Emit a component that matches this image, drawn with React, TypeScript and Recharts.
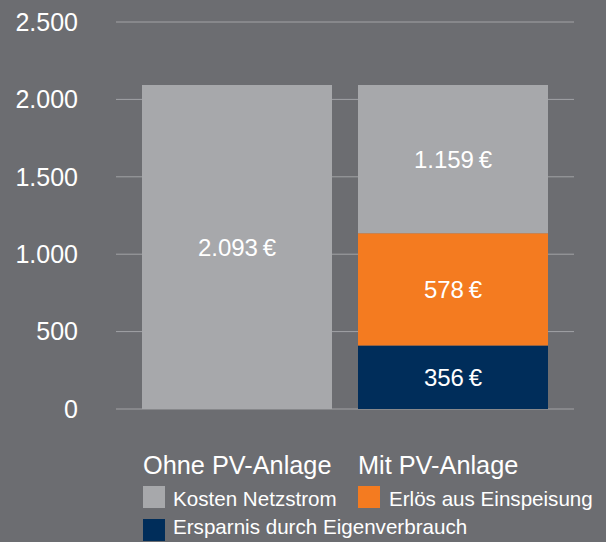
import { Bar, BarChart, CartesianGrid, LabelList, XAxis, YAxis } from "recharts";

const categories = ["Ohne PV-Anlage", "Mit PV-Anlage"];
// segment heights as drawn in the picture (the printed amounts are below)
const kostenNetzstrom = [2093, 958];
const erloesEinspeisung = [0, 724];
const ersparnisEigen = [0, 411];
// amounts printed inside the segments
const labelNetzstrom = [2093, 1159];
const labelEinspeisung = [0, 578];
const labelEigen = [0, 356];
const yTicks = [0, 500, 1000, 1500, 2000, 2500];

const data = categories.map((name, i) => ({
  name,
  netz: kostenNetzstrom[i],
  einspeisung: erloesEinspeisung[i],
  eigen: ersparnisEigen[i],
  netzLabel: labelNetzstrom[i],
  einspeisungLabel: labelEinspeisung[i],
  eigenLabel: labelEigen[i],
}));

const BG = "#6c6d71";
const GRAY = "#a7a8ab";
const ORANGE = "#f47b20";
const NAVY = "#002d5a";
const FONT = '"Liberation Sans", Arial, Helvetica, sans-serif';

const fmt = (v: number) => v.toLocaleString("de-DE");
const euro = (v: any) => (v ? `${fmt(Number(v))}\u2009€` : "");

const Swatch = ({ left, top, color }: { left: number; top: number; color: string }) => (
  <div style={{ position: "absolute", left, top, width: 22, height: 22, background: color }} />
);

const Txt = ({ left, top, size, children }: { left: number; top: number; size: number; children: string }) => (
  <div style={{ position: "absolute", left, top, fontSize: size, lineHeight: 1, color: "#fff", whiteSpace: "nowrap" }}>
    {children}
  </div>
);

export default function App() {
  return (
    <div style={{ position: "absolute", left: 0, top: 0, width: 606, height: 542, background: BG, fontFamily: FONT, overflow: "hidden" }}>
      <BarChart width={606} height={431} data={data} margin={{ top: 22, right: 32, bottom: 22, left: 0 }}>
        <CartesianGrid vertical={false} stroke="#a2a3a6" strokeWidth={1} />
        <XAxis dataKey="name" hide padding={{ left: 13, right: 13 }} />
        <YAxis
          width={116}
          domain={[0, 2500]}
          ticks={yTicks}
          tickFormatter={fmt}
          axisLine={false}
          tickLine={false}
          tickMargin={32}
          tick={{ fill: "#fff", fontSize: 25, fontFamily: FONT }}
        />
        <Bar dataKey="eigen" stackId="a" fill={NAVY} barSize={190} isAnimationActive={false}>
          <LabelList dataKey="eigenLabel" position="center" formatter={euro} fill="#fff" fontSize={24} fontFamily={FONT} />
        </Bar>
        <Bar dataKey="einspeisung" stackId="a" fill={ORANGE} barSize={190} isAnimationActive={false}>
          <LabelList dataKey="einspeisungLabel" position="center" formatter={euro} fill="#fff" fontSize={24} fontFamily={FONT} />
        </Bar>
        <Bar dataKey="netz" stackId="a" fill={GRAY} barSize={190} isAnimationActive={false}>
          <LabelList dataKey="netzLabel" position="center" formatter={euro} fill="#fff" fontSize={24} fontFamily={FONT} />
        </Bar>
      </BarChart>
      <Txt left={143} top={453} size={25.3}>Ohne PV-Anlage</Txt>
      <Txt left={358} top={453} size={25.3}>Mit PV-Anlage</Txt>
      <Swatch left={143} top={486} color={GRAY} />
      <Txt left={173} top={489} size={20.6}>Kosten Netzstrom</Txt>
      <Swatch left={358} top={486} color={ORANGE} />
      <Txt left={389} top={489} size={20.6}>Erlös aus Einspeisung</Txt>
      <Swatch left={143} top={519} color={NAVY} />
      <Txt left={173} top={517} size={20.6}>Ersparnis durch Eigenverbrauch</Txt>
    </div>
  );
}
